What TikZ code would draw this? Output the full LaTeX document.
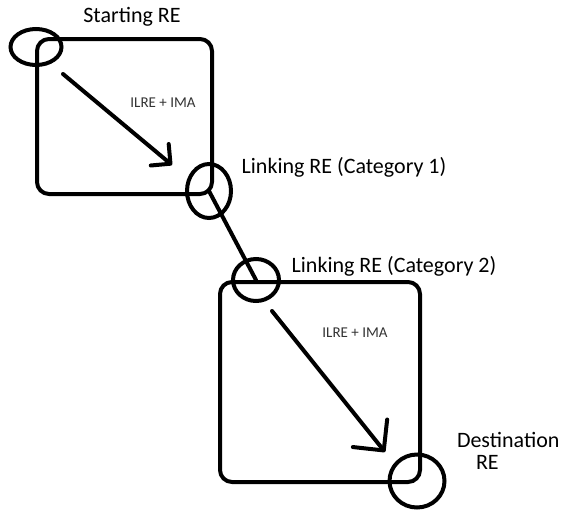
\documentclass[tikz,border=0pt]{standalone}
\usepackage{fontspec}
\setmainfont{Carlito}
\usetikzlibrary{shapes.geometric,arrows.meta,positioning}

\begin{document}
\begin{tikzpicture}[x=1pt,y=-1pt,line width=4pt,line cap=round,
    re/.style={draw,ellipse,inner sep=0pt},
    box/.style={draw,rounded corners=12pt},
    lbl/.style={font=\fontsize{22}{22}\selectfont,inner sep=0pt,anchor=base},
    note/.style={font=\fontsize{15}{18}\selectfont,text=black!80,inner sep=0pt,anchor=base},
    hop/.style={-{Straight Barb[round,length=#1,width=2*#1]}}]
    \useasboundingbox (0,0) rectangle (561,514);

    % First region
    \draw[box] (37,39) rectangle (212,194);
    \node[re, minimum width=51pt, minimum height=36pt] (start) at (36,47) {};
    \node[re, minimum width=44pt, minimum height=54pt] (link1) at (209,191) {};
    \coordinate (from1) at (63,74);
    \coordinate (to1) at (172,165);
    \draw[hop=14pt] (from1) -- (to1);
    \node[note] (path1) at (163,107) {ILRE + IMA};

    % Link between the regions
    \node[re, minimum width=46pt, minimum height=42pt] (link2) at (256,280) {};
    \draw (link1.center) -- (link2.center);

    % Second region
    \draw[box] (220,282) rectangle (420,482);
    \node[re, minimum width=55pt, minimum height=53pt] (dest) at (417,481) {};
    \coordinate (from2) at (272,311);
    \coordinate (to2) at (385,452);
    \draw[hop=22pt] (from2) -- (to2);
    \node[note] (path2) at (355,337) {ILRE + IMA};

    % Labels
    \node[lbl] (tstart) at (132,22) {Starting RE};
    \node[lbl] (tlink1) at (344,173) {Linking RE (Category 1)};
    \node[lbl] (tlink2) at (394,272) {Linking RE (Category 2)};
    \node[lbl, align=left, anchor=base west] (tdest) at (455,469) {Destination\\\hspace*{19pt}RE};
\end{tikzpicture}
\end{document}
